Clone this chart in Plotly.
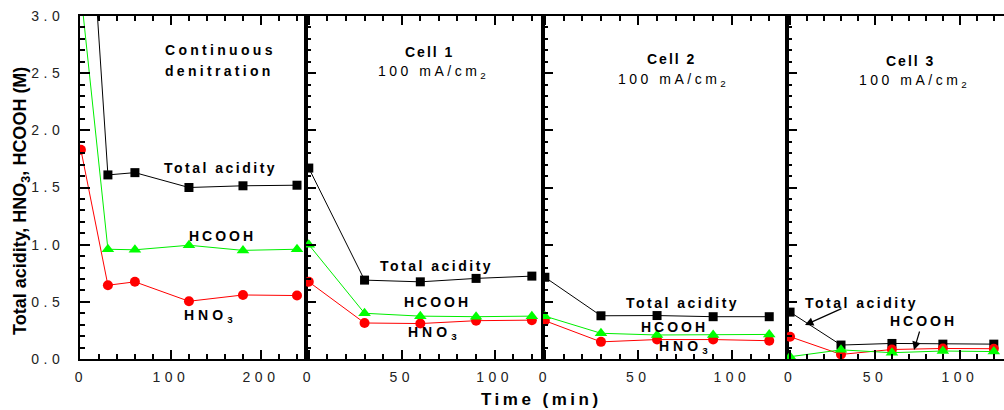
import plotly.graph_objects as go

# ---------------- data ----------------
t_cont = [0, 30, 60, 120, 180, 240]
total_cont = [5.2, 1.61, 1.63, 1.50, 1.515, 1.52]
hcooh_cont = [3.2, 0.96, 0.955, 0.995, 0.95, 0.96]
hno3_cont = [1.83, 0.645, 0.675, 0.505, 0.56, 0.555]

t_cell = [0, 30, 60, 90, 120]
total_c1 = [1.67, 0.69, 0.675, 0.705, 0.725]
hcooh_c1 = [1.0, 0.40, 0.375, 0.37, 0.375]
hno3_c1 = [0.675, 0.315, 0.31, 0.335, 0.34]

total_c2 = [0.715, 0.378, 0.38, 0.37, 0.37]
hcooh_c2 = [0.375, 0.225, 0.21, 0.21, 0.215]
hno3_c2 = [0.335, 0.15, 0.17, 0.17, 0.16]

total_c3 = [0.41, 0.122, 0.136, 0.13, 0.13]
hcooh_c3 = [0.02, 0.08, 0.055, 0.07, 0.065]
hno3_c3 = [0.195, 0.04, 0.083, 0.092, 0.09]

y_ticks = [0.0, 0.5, 1.0, 1.5, 2.0, 2.5, 3.0]
y_ticklabels = ["0.0", "0.5", "1.0", "1.5", "2.0", "2.5", "3.0"]
x_ticks_cont = [0, 100, 200]
x_ticks_cell = [0, 50, 100]

W, H = 1004, 410
FONT = "Liberation Sans, Arial, sans-serif"
TICK_SIZE = 14


def px_x(p):
    return p / W


def px_y(p):
    return 1 - p / H


def sp(s, ls, size):
    return f'<span style="letter-spacing:{ls}px;font-size:{size}px">{s}</span>'


panels = [
    (t_cont, total_cont, hcooh_cont, hno3_cont),
    (t_cell, total_c1, hcooh_c1, hno3_c1),
    (t_cell, total_c2, hcooh_c2, hno3_c2),
    (t_cell, total_c3, hcooh_c3, hno3_c3),
]
x_dom_px = [(80, 306), (306, 543), (543, 787), (787, 1004)]
x_ranges = [[-1, 250], [-1.5, 126], [-1, 129.5], [-1.8, 126]]

fig = go.Figure()

for i, (t, tot, hc, hn) in enumerate(panels):
    n = "" if i == 0 else str(i + 1)
    xa, ya = "x" + n, "y" + n
    fig.add_trace(go.Scatter(x=t, y=tot, mode="lines+markers", xaxis=xa, yaxis=ya,
                             line=dict(color="black", width=1),
                             marker=dict(symbol="square", size=9, color="black"),
                             showlegend=False))
    fig.add_trace(go.Scatter(x=t, y=hn, mode="lines+markers", xaxis=xa, yaxis=ya,
                             line=dict(color="#ff0000", width=1),
                             marker=dict(symbol="circle", size=10, color="#ff0000"),
                             showlegend=False))
    fig.add_trace(go.Scatter(x=t, y=hc, mode="lines+markers", xaxis=xa, yaxis=ya,
                             line=dict(color="#00ee00", width=1),
                             marker=dict(symbol="triangle-up", size=11, color="#00ff00"),
                             showlegend=False))

    tickv = x_ticks_cont if i == 0 else x_ticks_cell
    fig.layout["xaxis" + n] = dict(
        domain=[px_x(x_dom_px[i][0]), px_x(x_dom_px[i][1])],
        range=x_ranges[i], anchor=ya,
        showline=True, linecolor="black", linewidth=2, mirror="allticks",
        ticks="inside", ticklen=9, tickwidth=1.5, tickcolor="black",
        tickvals=tickv, ticktext=[sp(str(v), 4.5, TICK_SIZE) for v in tickv],
        minor=dict(ticks="inside", ticklen=5, tickwidth=1.5, tickcolor="black",
                   dtick=20 if i == 0 else 10, tick0=0),
        tickfont=dict(family=FONT, size=TICK_SIZE, color="#222"),
        ticklabelstandoff=4,
        showgrid=False, zeroline=False,
    )
    fig.layout["yaxis" + n] = dict(
        domain=[px_y(359), px_y(16)], range=[0, 3], anchor=xa,
        showline=True, linecolor="black", linewidth=2, mirror=(i < 3),
        ticks="inside", ticklen=10, tickwidth=1.5, tickcolor="black",
        tickvals=y_ticks, ticktext=[sp(s, 4.5, TICK_SIZE) for s in y_ticklabels],
        showticklabels=(i == 0),
        minor=dict(ticks="inside", ticklen=5, tickwidth=1.5, tickcolor="black",
                   dtick=0.1, tick0=0),
        tickfont=dict(family=FONT, size=TICK_SIZE, color="#222"),
        ticklabelstandoff=11,
        showgrid=False, zeroline=False,
    )

ann = []


def txt(x, y, s, size=14, xanchor="center"):
    ann.append(dict(x=px_x(x), y=px_y(y), xref="paper", yref="paper", text=s,
                    showarrow=False, xanchor=xanchor, yanchor="middle",
                    font=dict(family=FONT, size=size, color="black")))


def arrow(x0, y0, x1, y1):
    ann.append(dict(x=px_x(x1), y=px_y(y1), xref="paper", yref="paper",
                    ax=x0 - x1, ay=y0 - y1, axref="pixel", ayref="pixel",
                    text="", showarrow=True, arrowhead=2, arrowsize=1.4,
                    arrowwidth=1.2, arrowcolor="black"))


def B(s, ls=3):
    return "<b>" + sp(s, ls, 14) + "</b>"


HNO3 = "<b>" + sp("HNO", 4, 14) + "<sub>3</sub></b>"
MA = sp("100 mA/cm", 3.5, 14) + "<sub>2</sub>"

# panel 1
txt(163, 50, B("Continuous", 3.3), xanchor="left")
txt(163, 71, B("denitration", 3.3), xanchor="left")
txt(220, 168, B("Total acidity", 2.5))
txt(222, 236, B("HCOOH", 3))
txt(208, 316, HNO3)
# panel 2
txt(429, 52, B("Cell 1", 2))
txt(432, 72, MA)
txt(436, 266, B("Total acidity", 2.5))
txt(437, 302, B("HCOOH", 3))
txt(432, 333, HNO3)
# panel 3
txt(671, 59, B("Cell 2", 2))
txt(672, 80, MA)
txt(682, 303, B("Total acidity", 2.5))
txt(674, 327, B("HCOOH", 3))
txt(683, 347, HNO3)
# panel 4
txt(910, 61, B("Cell 3", 2))
txt(913, 81, MA)
txt(861, 303, B("Total acidity", 2.5))
txt(923, 321, B("HCOOH", 3))
arrow(843, 308, 805, 325)
arrow(920, 330, 914, 350)

# axis titles
ann.append(dict(x=px_x(21), y=px_y(201), xref="paper", yref="paper",
                text="<b>Total acidity, HNO<sub>3</sub>, HCOOH (M)</b>",
                textangle=-90, showarrow=False, xanchor="center", yanchor="middle",
                font=dict(family=FONT, size=18, color="black")))
ann.append(dict(x=px_x(541), y=px_y(399), xref="paper", yref="paper",
                text="<b>" + sp("Time (min)", 3.5, 17) + "</b>",
                showarrow=False, xanchor="center", yanchor="middle",
                font=dict(family=FONT, size=17, color="black")))

fig.update_layout(
    width=W, height=H, margin=dict(l=0, r=0, t=0, b=0, autoexpand=False),
    paper_bgcolor="white", plot_bgcolor="white",
    annotations=ann, showlegend=False,
)

fig.write_html("out.html", config={"displayModeBar": False})
